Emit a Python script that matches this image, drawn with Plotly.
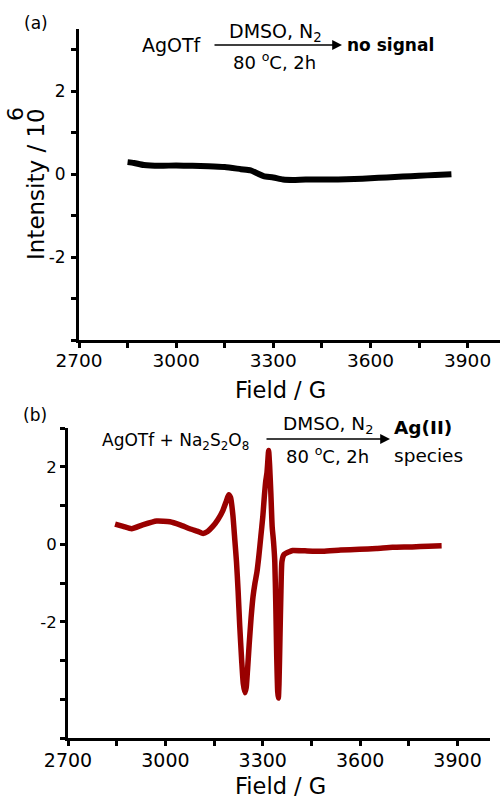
import plotly.graph_objects as go

W, H = 500, 798

# ---------------- data ----------------
field_a = [2850, 2870, 2900, 2950, 3000, 3050, 3100, 3150, 3200, 3230, 3250, 3270,
           3300, 3330, 3360, 3400, 3450, 3500, 3550, 3600, 3650, 3700, 3750, 3800, 3850]
intensity_a = [0.29, 0.27, 0.22, 0.20, 0.21, 0.20, 0.19, 0.17, 0.12, 0.09, 0.02, -0.05,
               -0.08, -0.13, -0.14, -0.13, -0.13, -0.13, -0.12, -0.10, -0.08, -0.06, -0.04, -0.02, 0.0]

field_b = [2845, 2870, 2896, 2930, 2973, 3014, 3045, 3075, 3100, 3116, 3130, 3146, 3162, 3177,
           3188, 3195, 3201, 3208, 3214, 3219, 3224, 3229, 3235, 3240, 3245, 3249, 3253, 3258,
           3264, 3270, 3276, 3282, 3288, 3294, 3300, 3305, 3309, 3313, 3316, 3318, 3321, 3325,
           3329, 3333, 3337, 3340, 3343, 3346, 3348, 3350, 3353, 3356, 3359, 3365, 3380, 3392,
           3430, 3485, 3540, 3598, 3650, 3700, 3760, 3810, 3851]
intensity_b = [0.52, 0.46, 0.40, 0.50, 0.60, 0.58, 0.50, 0.40, 0.33, 0.28, 0.33, 0.46, 0.64, 0.87,
               1.12, 1.28, 1.20, 0.75, 0.10, -0.45, -1.20, -2.10, -3.00, -3.60, -3.83, -3.70, -3.25, -2.60,
               -1.90, -1.35, -1.00, -0.72, -0.30, 0.20, 0.70, 1.25, 1.62, 1.85, 2.20, 2.42, 2.05, 1.30,
               0.45, 0.08, -0.45, -1.50, -2.90, -3.80, -3.97, -3.60, -2.40, -1.20, -0.45, -0.27, -0.20, -0.16,
               -0.17, -0.18, -0.15, -0.13, -0.11, -0.08, -0.07, -0.05, -0.04]

x_ticks = [2700, 2850, 3000, 3150, 3300, 3450, 3600, 3750, 3900]
x_labels = ["2700", "", "3000", "", "3300", "", "3600", "", "3900"]
ya_ticks = [-4, -3, -2, -1, 0, 1, 2, 3]
ya_labels = ["", "", "-2", "", "0", "", "2", ""]
yb_ticks = [-5, -4, -3, -2, -1, 0, 1, 2, 3]
yb_labels = ["", "", "", "-2", "", "0", "", "2", ""]

FONT = "DejaVu Sans"


def px(x, y):
    return x / W, 1 - y / H


fig = go.Figure()
fig.add_trace(go.Scatter(x=field_a, y=intensity_a, mode="lines",
                         line=dict(color="black", width=6, shape="spline", smoothing=0.6),
                         xaxis="x", yaxis="y", showlegend=False))
fig.add_trace(go.Scatter(x=field_b, y=intensity_b, mode="lines",
                         line=dict(color="#990000", width=5.5, shape="spline", smoothing=0.5),
                         xaxis="x2", yaxis="y2", showlegend=False))


def axis(domain, rng, tickvals, ticktext, size, anchor, standoff=0):
    return dict(domain=domain, range=rng, anchor=anchor, showline=True, linewidth=3,
                linecolor="black", ticks="outside", ticklen=5, tickwidth=3, tickcolor="black",
                tickmode="array", tickvals=tickvals, ticktext=ticktext,
                tickfont=dict(family=FONT, size=size, color="black"), automargin=False,
                ticklabelstandoff=standoff,
                showgrid=False, zeroline=False, fixedrange=True)


layout = dict(
    width=W, height=H, margin=dict(l=0, r=0, t=0, b=0, autoexpand=False),
    paper_bgcolor="white", plot_bgcolor="rgba(0,0,0,0)",
    xaxis=axis([79 / W, 1.0], [2700, 4000], x_ticks, x_labels, 18.5, "y", -3),
    yaxis=axis([1 - 340 / H, 1 - 29 / H], [-4, 3.5], ya_ticks, ya_labels, 17, "x", 2),
    xaxis2=axis([68 / W, 490 / W], [2700, 4000], x_ticks, x_labels, 19, "y2", -2),
    yaxis2=axis([1 - 738 / H, 1 - 428 / H], [-5, 3], yb_ticks, yb_labels, 16.5, "x2"),
)
fig.update_layout(**layout)

ann = []


def text(x, y, s, size=18, bold=False, angle=0):
    xx, yy = px(x, y)
    ann.append(dict(x=xx, y=yy, xref="paper", yref="paper", text=("<b>%s</b>" % s) if bold else s,
                    showarrow=False, xanchor="center", yanchor="middle", textangle=angle,
                    font=dict(family=FONT, size=size, color="black")))


def arrow(x0, x1, y):
    xx, yy = px(x1, y)
    ann.append(dict(x=xx, y=yy, xref="paper", yref="paper", text="", showarrow=True,
                    ax=x0 - x1, ay=0, arrowhead=2, arrowsize=1.4, arrowwidth=1.4, arrowcolor="black"))


# panel labels
text(36, 23, "(a)", 17)
text(35, 415, "(b)", 17)

# panel (a) scheme
text(172, 45, "AgOTf", 19)
arrow(213, 342, 45)
text(275, 32, "DMSO, N<sub>2</sub>", 19)
text(274, 61, "80 <sup>o</sup>C, 2h", 18)
text(390, 45, "no signal", 17, bold=True)

# panel (b) scheme
text(175, 441, "AgOTf + Na<sub>2</sub>S<sub>2</sub>O<sub>8</sub>", 17)
arrow(265, 390, 439)
text(328, 425, "DMSO, N<sub>2</sub>", 18.5)
text(327, 455, "80 <sup>o</sup>C, 2h", 18)
text(423, 427, "Ag(II)", 18.5, bold=True)
text(428, 455, "species", 18.5)

# axis titles
text(36, 184, "Intensity / 10", 23, angle=-90)
text(16, 114, "6", 22, angle=-90)
text(280, 390, "Field / G", 22.5)
text(280, 786, "Field / G", 22.5)

fig.update_layout(annotations=ann)
fig.write_html("out.html", config={"displayModeBar": False},
               post_script="document.body.style.margin='0';")
